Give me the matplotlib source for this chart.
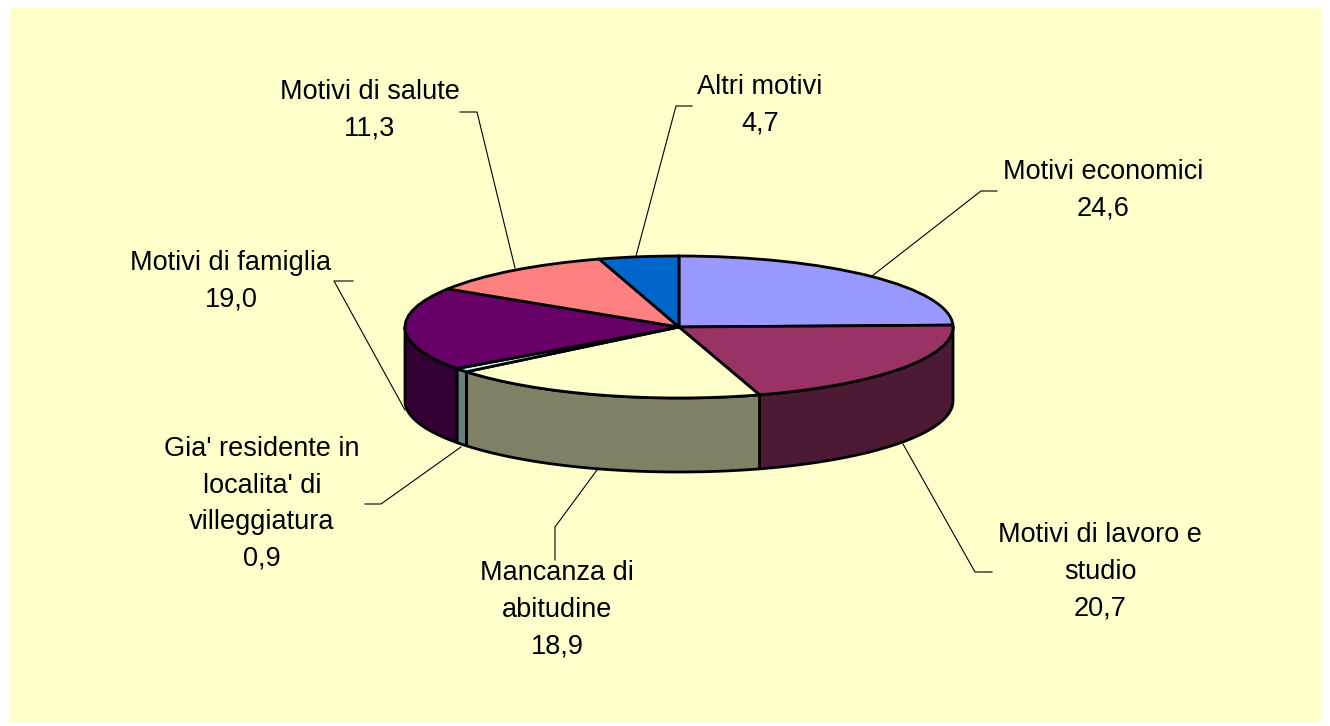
import numpy as np
import matplotlib
matplotlib.use('Agg')
import matplotlib.pyplot as plt
from matplotlib.patches import Rectangle, Polygon

plt.rcParams['font.family'] = ['Liberation Sans', 'DejaVu Sans']

labels = ['Motivi economici', 'Motivi di lavoro e\nstudio', 'Mancanza di\nabitudine',
          "Gia' residente in\nlocalita' di\nvilleggiatura", 'Motivi di famiglia',
          'Motivi di salute', 'Altri motivi']
values = [24.6, 20.7, 18.9, 0.9, 19.0, 11.3, 4.7]
top_colors = ['#9999FF', '#993366', '#FFFFCC', '#CCFFFF', '#660066', '#FF8080', '#0066CC']
side_colors = ['#4D4D80', '#4D1A33', '#808066', '#668080', '#330033', '#804040', '#003366']

# label centres and leader lines, in pixels of the 1330x726 picture
label_pos = [(1103, 190), (1100, 572), (557, 610), (262, 504), (231, 281), (370, 110), (760, 105)]
leaders = [
    [(997, 191), (981, 191), (872, 276)],
    [(992, 572), (975, 572), (903, 444)],
    [(555, 560), (555, 527), (597, 470)],
    [(365, 504), (381, 504), (461, 447)],
    [(353, 281), (334, 281), (405, 410)],
    [(460, 112), (477, 112), (515, 268)],
    [(692, 106), (676, 106), (636, 256)],
]

W, H = 1330, 726
cx, cy = 679, 327
rx, ry, depth = 274, 71, 74


def px(x, y):
    # picture pixels to pie units
    return (x - cx) / rx, (cy - y) / ry


fig = plt.figure(figsize=(W / 100, H / 100), dpi=100, facecolor='white')
ax = fig.add_axes([0, 0, 1, 1])

# top of the pie
ax.pie(values, colors=top_colors, startangle=90, counterclock=False, radius=1,
       wedgeprops={'edgecolor': 'black', 'linewidth': 2, 'zorder': 5})
ax.set_aspect('auto')
ax.set_axis_on()
ax.set_xlim(px(0, 0)[0], px(W, 0)[0])
ax.set_ylim(px(0, H)[1], px(0, 0)[1])
ax.axis('off')

# pale panel
x0, y0 = px(10, 722)
x1, y1 = px(1322, 8)
ax.add_patch(Rectangle((x0, y0), x1 - x0, y1 - y0, facecolor='#FFFFCC', edgecolor='none', zorder=0))

# side walls, only the front half of the pie shows
edges = np.cumsum([0] + values) / sum(values) * 360
d = depth / ry
for i in range(len(values)):
    a = max(edges[i], 90)
    b = min(edges[i + 1], 270)
    if b <= a:
        continue
    t = np.radians(np.linspace(a, b, 60))
    xs, ys = np.sin(t), np.cos(t)
    pts = np.r_[np.c_[xs, ys], np.c_[xs[::-1], ys[::-1] - d]]
    ax.add_patch(Polygon(pts, closed=True, facecolor=side_colors[i], edgecolor='black',
                         linewidth=2, joinstyle='round', zorder=3))

for line in leaders:
    pts = [px(x, y) for x, y in line]
    ax.plot([p[0] for p in pts], [p[1] for p in pts], color='black', lw=0.8, zorder=2)

for name, v, pos in zip(labels, values, label_pos):
    txt = name + '\n' + f'{v:.1f}'.replace('.', ',')
    x, y = px(*pos)
    ax.text(x, y, txt, ha='center', va='center', fontsize=19.5, color='black',
            linespacing=1.53, zorder=6)

fig.savefig('out.png', dpi=100, facecolor='white')
